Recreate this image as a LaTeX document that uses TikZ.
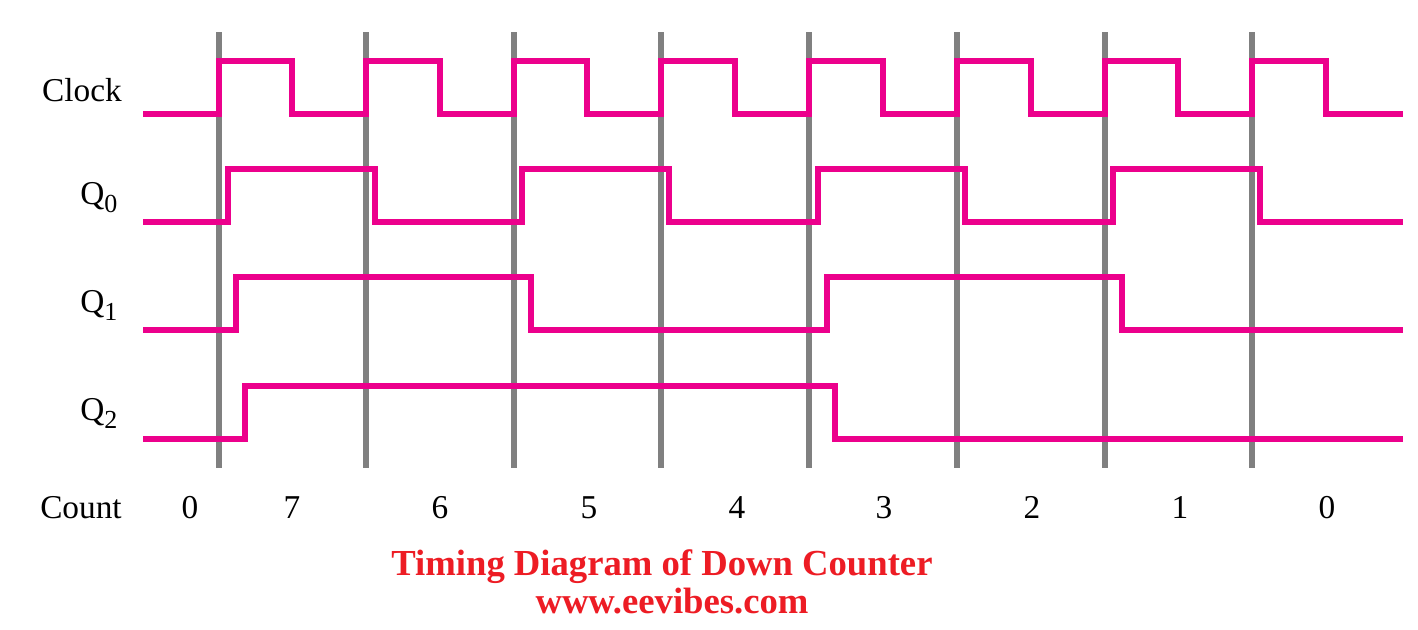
\documentclass[tikz,border=0pt]{standalone}
\usepackage{fontspec}
\setmainfont{Liberation Serif}
\definecolor{wave}{RGB}{236,0,140}
\definecolor{grid}{RGB}{128,128,128}
\definecolor{titlered}{RGB}{237,28,36}
\newcommand{\qsub}[1]{Q\raisebox{-6.5pt}{\fontsize{19.5}{20}\selectfont #1}}
\tikzset{
  gridline/.style={draw=grid,line width=4.2pt},
  sig/.style={draw=wave,line width=3.8pt,line join=miter},
  lbl/.style={anchor=base,inner sep=0pt,font=\fontsize{25}{30}\selectfont},
  qlbl/.style={anchor=base west,inner sep=0pt,font=\fontsize{25}{30}\selectfont},
  ttl/.style={anchor=base,inner sep=0pt,text=titlered,font=\fontsize{27.5}{32}\selectfont\bfseries}
}
\begin{document}
\begin{tikzpicture}[x=0.75pt,y=-0.75pt]
\useasboundingbox[fill=white] (0,0) rectangle (1418,629);
% grid lines
\foreach \gx [count=\i] in {219,366,514,661,809,957,1105,1252}
  \draw[gridline] (\gx,32) coordinate (gt\i) -- (\gx,468) coordinate (gb\i);
% clock
\draw[sig] (143,114) coordinate (cs)
  -- (219,114) -- (219,61) -- (292,61) -- (292,114)
  -- (366,114) -- (366,61) -- (440,61) -- (440,114)
  -- (514,114) -- (514,61) -- (587,61) -- (587,114)
  -- (661,114) -- (661,61) -- (735,61) -- (735,114)
  -- (809,114) -- (809,61) -- (883,61) -- (883,114)
  -- (957,114) -- (957,61) -- (1031,61) -- (1031,114)
  -- (1105,114) -- (1105,61) -- (1178,61) -- (1178,114)
  -- (1252,114) -- (1252,61) -- (1326,61) -- (1326,114)
  -- (1403,114) coordinate (ce);
% Q0
\draw[sig] (143,222) coordinate (q0s)
  -- (228,222) -- (228,169) -- (375,169) -- (375,222)
  -- (522,222) -- (522,169) -- (669,169) -- (669,222)
  -- (818,222) -- (818,169) -- (965,169) -- (965,222)
  -- (1113,222) -- (1113,169) -- (1260,169) -- (1260,222)
  -- (1403,222) coordinate (q0e);
% Q1
\draw[sig] (143,330) coordinate (q1s)
  -- (236,330) -- (236,277) -- (531,277) -- (531,330)
  -- (827,330) -- (827,277) -- (1122,277) -- (1122,330)
  -- (1403,330) coordinate (q1e);
% Q2
\draw[sig] (143,439) coordinate (q2s)
  -- (245,439) -- (245,386) -- (835,386) -- (835,439)
  -- (1403,439) coordinate (q2e);
% labels
\node[lbl] (lclk) at (82,101) {Clock};
\node[qlbl] (lq0) at (80,204) {\qsub{0}};
\node[qlbl] (lq1) at (80,312) {\qsub{1}};
\node[qlbl] (lq2) at (80,420) {\qsub{2}};
\node[lbl] (lcnt) at (81,518) {Count};
\foreach \cx/\cv [count=\i] in {190/0,292/7,440/6,589/5,737/4,884/3,1032/2,1180/1,1327/0}
  \node[lbl] (c\i) at (\cx,518) {\cv};
% title
\node[ttl] (title) at (662,575) {Timing Diagram of Down Counter};
\node[ttl] (site) at (672,613) {www.eevibes.com};
\end{tikzpicture}
\end{document}
